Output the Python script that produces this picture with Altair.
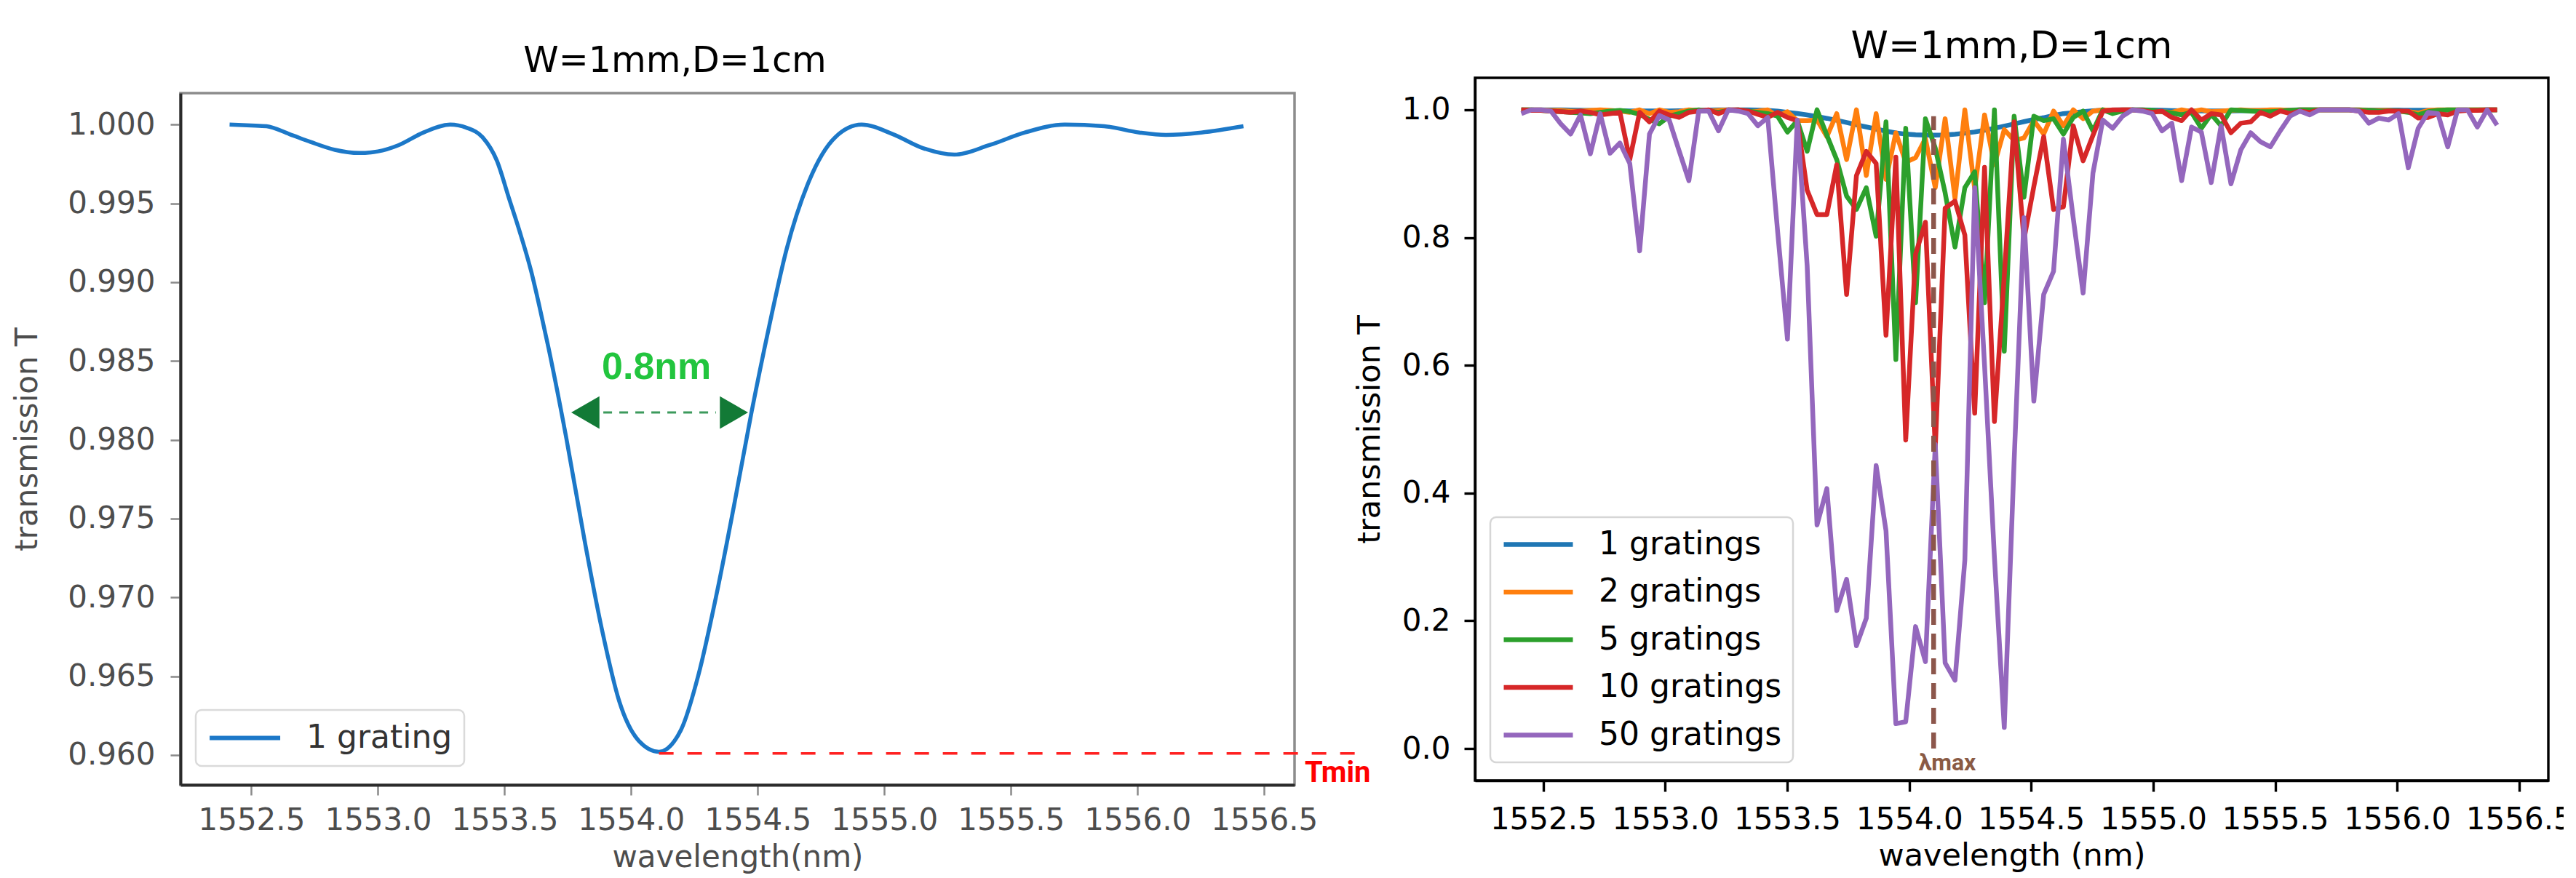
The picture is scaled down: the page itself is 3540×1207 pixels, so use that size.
import altair as alt
import pandas as pd

# ---------------- left panel: 1 grating
left_wl = [1552.414, 1552.50, 1552.56, 1552.65, 1552.734, 1552.83, 1552.926, 1553.00, 1553.082, 1553.18,
           1553.285, 1553.35, 1553.413, 1553.47, 1553.518, 1553.56, 1553.605, 1553.64, 1553.674, 1553.744,
           1553.815, 1553.884, 1553.953, 1554.03, 1554.11, 1554.197, 1554.266, 1554.336, 1554.406, 1554.476,
           1554.545, 1554.614, 1554.702, 1554.806, 1554.91, 1555.033, 1555.154, 1555.276, 1555.415, 1555.555,
           1555.712, 1555.868, 1556.007, 1556.112, 1556.252, 1556.418]
left_T = [1.0000, 0.99995, 0.9999, 0.9994, 0.9989, 0.9984, 0.9982, 0.9983, 0.9987, 0.9995,
          1.0000, 0.9998, 0.9992, 0.9977, 0.9953, 0.9932, 0.9907, 0.9883, 0.9858, 0.9801,
          0.9737, 0.9680, 0.9634, 0.9609, 0.9602, 0.9616, 0.9651, 0.9701, 0.9758, 0.9818,
          0.9872, 0.9921, 0.9964, 0.9992, 1.0000, 0.9994, 0.9985, 0.9981, 0.9987, 0.9995,
          1.0000, 0.9999, 0.9995, 0.99935, 0.9995, 0.9999]

x_ticks = [1552.5, 1553.0, 1553.5, 1554.0, 1554.5, 1555.0, 1555.5, 1556.0, 1556.5]
left_y_ticks = [0.960, 0.965, 0.970, 0.975, 0.980, 0.985, 0.990, 0.995, 1.000]
right_y_ticks = [0.0, 0.2, 0.4, 0.6, 0.8, 1.0]

# annotations (left)
tmin_T = 0.9601
tmin_from, tmin_to = 1554.11, 1556.89
fwhm_T = 0.98173
fwhm_from, fwhm_to = 1553.89, 1554.335
arrow_left_wl, arrow_right_wl = 1553.819, 1554.406
fwhm_label_wl, fwhm_label_T = 1554.10, 0.98386
tmin_label_wl, tmin_label_T = 1556.66, 0.95830

right_wl = [round(1552.41 + 0.0404 * i, 4) for i in range(100)]

T1 = [1.0, 1.0, 1.0, 0.9999, 0.9998, 0.9996, 0.9993, 0.9991, 0.9989, 0.9986,
      0.9984, 0.9983, 0.9982, 0.9982, 0.9982, 0.9983, 0.9986, 0.9988, 0.9992, 0.9995,
      0.9998, 1.0, 0.9999, 0.9998, 0.9995, 0.9991, 0.9978, 0.9960, 0.9942, 0.9920,
      0.9893, 0.9866, 0.9835, 0.9801, 0.9765, 0.9731, 0.9697, 0.9666, 0.9638, 0.9619,
      0.9609, 0.9603, 0.9602, 0.9607, 0.9617, 0.9633, 0.9653, 0.9680, 0.9710, 0.9745,
      0.9778, 0.9814, 0.9848, 0.9876, 0.9911, 0.9940, 0.9955, 0.9970, 0.9985, 0.9993,
      0.9997, 0.9999, 1.0, 0.9998, 0.9995, 0.9992, 0.9988, 0.9985, 0.9983, 0.9982,
      0.9981, 0.9981, 0.9983, 0.9985, 0.9987, 0.9990, 0.9993, 0.9995, 0.9997, 0.9999,
      1.0, 1.0, 1.0, 0.9999, 0.9999, 0.9998, 0.9997, 0.9996, 0.9995, 0.9995,
      0.9994, 0.9994, 0.9993, 0.9994, 0.9994, 0.9995, 0.9996, 0.9997, 0.9998, 0.9999]

T2 = [1.0, 1.0, 1.0, 0.999, 0.999, 0.998, 0.998, 0.999, 1.0, 0.999,
      0.998, 0.996, 1.0, 0.994, 1.0, 0.996, 0.997, 1.0, 0.999, 0.998,
      0.999, 1.0, 0.999, 0.997, 0.998, 1.0, 0.990, 0.997, 0.983, 0.983,
      0.984, 0.958, 0.994, 0.922, 1.0, 0.897, 0.994, 0.891, 0.964, 0.918,
      0.925, 0.955, 0.878, 0.986, 0.861, 1.0, 0.876, 0.992, 0.914, 0.969,
      0.952, 0.956, 0.983, 0.962, 0.998, 0.975, 1.0, 0.986, 0.998, 1.0,
      0.999, 1.0, 1.0, 0.999, 0.998, 0.997, 0.996, 1.0, 0.997, 1.0,
      0.997, 0.998, 0.999, 1.0, 0.999, 0.999, 1.0, 1.0, 0.999, 1.0,
      1.0, 1.0, 1.0, 1.0, 1.0, 1.0, 0.999, 0.999, 0.999, 0.998,
      0.997, 0.995, 0.999, 1.0, 1.0, 1.0, 1.0, 1.0, 1.0, 1.0]

T5 = [1.0, 1.0, 0.999, 0.998, 0.997, 0.996, 0.995, 0.994, 0.996, 0.998,
      0.999, 0.997, 0.993, 0.985, 0.978, 0.990, 0.994, 0.998, 1.0, 0.998,
      0.996, 0.999, 1.0, 0.998, 0.996, 0.994, 0.990, 0.965, 0.983, 0.935,
      1.0, 0.960, 0.922, 0.865, 0.844, 0.878, 0.802, 0.981, 0.609, 0.971,
      0.698, 0.986, 0.94, 0.87, 0.785, 0.878, 0.903, 0.698, 1.0, 0.622,
      0.990, 0.863, 0.990, 0.983, 0.986, 0.962, 0.988, 0.998, 0.967, 1.0,
      0.994, 0.998, 1.0, 1.0, 0.999, 0.997, 0.995, 0.992, 0.996, 0.971,
      0.993, 0.975, 1.0, 0.999, 0.998, 0.997, 0.997, 0.998, 0.999, 1.0,
      1.0, 1.0, 1.0, 1.0, 1.0, 0.999, 0.999, 0.998, 0.998, 0.998,
      0.996, 0.992, 0.997, 0.999, 1.0, 1.0, 1.0, 1.0, 1.0, 1.0]

T10 = [1.0, 0.999, 0.999, 0.998, 0.997, 0.996, 0.998, 0.996, 0.992, 0.994,
       0.996, 0.922, 0.996, 0.981, 0.998, 0.992, 0.988, 0.996, 0.998, 1.0,
       0.994, 1.0, 1.0, 0.998, 0.993, 0.988, 0.996, 0.988, 0.983, 0.874,
       0.836, 0.836, 0.914, 0.711, 0.897, 0.935, 0.916, 0.647, 0.926, 0.483,
       0.774, 0.824, 0.47, 0.846, 0.857, 0.804, 0.525, 0.910, 0.512, 0.74,
       0.981, 0.797, 0.88, 0.958, 0.844, 0.848, 0.975, 0.920, 0.96, 0.998,
       1.0, 1.0, 1.0, 0.999, 0.996, 0.998, 0.988, 0.983, 1.0, 0.984,
       0.994, 0.992, 0.964, 0.979, 0.981, 0.996, 0.990, 0.998, 0.994, 0.998,
       0.996, 1.0, 1.0, 1.0, 1.0, 0.998, 0.996, 0.996, 0.998, 0.998,
       0.998, 0.987, 0.988, 0.994, 0.992, 0.998, 0.999, 0.999, 1.0, 1.0]

T50 = [0.994, 1.0, 1.0, 0.998, 0.978, 0.962, 0.992, 0.931, 0.994, 0.932,
       0.948, 0.916, 0.779, 0.962, 0.991, 0.984, 0.936, 0.889, 0.998, 0.998,
       0.967, 1.0, 0.998, 0.994, 0.975, 0.988, 0.81, 0.641, 0.984, 0.756,
       0.350, 0.407, 0.216, 0.265, 0.161, 0.204, 0.443, 0.341, 0.039, 0.042,
       0.191, 0.136, 0.476, 0.134, 0.107, 0.295, 0.878, 0.60, 0.30, 0.033,
       0.45, 0.831, 0.544, 0.711, 0.747, 0.954, 0.83, 0.713, 0.901, 0.984,
       0.971, 0.990, 1.0, 0.998, 0.994, 0.967, 0.979, 0.889, 0.973, 0.965,
       0.886, 0.975, 0.884, 0.937, 0.964, 0.950, 0.942, 0.967, 0.990, 0.998,
       0.992, 1.0, 1.0, 1.0, 1.0, 0.998, 0.979, 0.987, 0.984, 0.994,
       0.909, 0.971, 0.996, 0.994, 0.942, 1.0, 1.0, 0.973, 1.0, 0.976]

series_names = ["1 gratings", "2 gratings", "5 gratings", "10 gratings", "50 gratings"]
series_values = [T1, T2, T5, T10, T50]
series_colors = ["#1f77b4", "#ff7f0e", "#2ca02c", "#d62728", "#9467bd"]

lambda_max = 1554.1
lambda_line_T = [0.0, 0.99]
lambda_label_wl, lambda_label_T = 1554.156, -0.034

TITLE = "W=1mm,D=1cm"

# ---------------- data frames
left_df = pd.DataFrame({"wl": left_wl, "T": left_T, "series": "1 grating"})
rows = []
for k, (name, vals) in enumerate(zip(series_names, series_values)):
    assert len(vals) == len(right_wl), name
    for w, t in zip(right_wl, vals):
        rows.append({"wl": w, "T": t, "grating": name, "k": k})
right_df = pd.DataFrame(rows)

tmin_df = pd.DataFrame({"wl": [tmin_from], "wl2": [tmin_to], "T": [tmin_T]})
fwhm_df = pd.DataFrame({"wl": [fwhm_from], "wl2": [fwhm_to], "T": [fwhm_T]})
arrow_l_df = pd.DataFrame({"wl": [arrow_left_wl], "T": [fwhm_T]})
arrow_r_df = pd.DataFrame({"wl": [arrow_right_wl], "T": [fwhm_T]})
fwhm_lab_df = pd.DataFrame({"wl": [fwhm_label_wl], "T": [fwhm_label_T], "label": ["0.8nm"]})
tmin_lab_df = pd.DataFrame({"wl": [tmin_label_wl], "T": [tmin_label_T], "label": ["Tmin"]})
lam_df = pd.DataFrame({"wl": [lambda_max], "T": [lambda_line_T[0]], "T2": [lambda_line_T[1]]})
lam_lab_df = pd.DataFrame({"wl": [lambda_label_wl], "T": [lambda_label_T], "label": ["λmax"]})
spacer_df = pd.DataFrame({"s": [0]})

FONT = "DejaVu Sans"
LINE_SYMBOL = "M-1,0L4,0"   # a horizontal legend line, 5 radii long

# ---------------- left chart
xl_scale = alt.Scale(domain=[1552.22, 1556.62], nice=False, zero=False)
yl_scale = alt.Scale(domain=[0.9581, 1.0020], nice=False, zero=False)
left_axis = dict(labelFont=FONT, labelFontSize=42, labelColor="#4d4d4d", titleFont=FONT,
                 titleFontSize=42, titleFontWeight="normal", titleColor="#4d4d4d",
                 tickColor="#8a8a8a", tickWidth=2.5, tickSize=14, domainColor="#2b2b2b",
                 domainWidth=4, grid=False)

l_line = alt.Chart(left_df).mark_line(strokeWidth=5.5, interpolate="monotone").encode(
    x=alt.X("wl:Q", scale=xl_scale,
            axis=alt.Axis(values=x_ticks, format=".1f", title="wavelength(nm)",
                          labelPadding=14, titlePadding=10, **left_axis)),
    y=alt.Y("T:Q", scale=yl_scale,
            axis=alt.Axis(values=left_y_ticks, format=".3f", title="transmission T",
                          labelPadding=21, titlePadding=33, **left_axis)),
    color=alt.Color("series:N", scale=alt.Scale(domain=["1 grating"], range=["#1c78c8"]),
                    legend=alt.Legend(orient="none", legendX=21, legendY=941, title=None,
                                      symbolType=LINE_SYMBOL, symbolSize=1505,
                                      symbolStrokeWidth=6, labelFont=FONT, labelFontSize=44,
                                      labelColor="#333333", labelOffset=91, labelLimit=600,
                                      padding=16, strokeColor="#dadada", fillColor="white",
                                      cornerRadius=8)),
)
l_tmin = alt.Chart(tmin_df).mark_rule(color="#ff2020", strokeWidth=3.5, strokeDash=[20, 19]).encode(
    x="wl:Q", x2="wl2:Q", y="T:Q")
l_fwhm = alt.Chart(fwhm_df).mark_rule(color="#3c9a5c", strokeWidth=3, strokeDash=[12, 10]).encode(
    x="wl:Q", x2="wl2:Q", y="T:Q")
l_arr_l = alt.Chart(arrow_l_df).mark_point(shape="triangle-left", filled=True, size=2000,
                                           color="#127a36", opacity=1, strokeWidth=0).encode(
    x="wl:Q", y="T:Q")
l_arr_r = alt.Chart(arrow_r_df).mark_point(shape="triangle-right", filled=True, size=2000,
                                           color="#127a36", opacity=1, strokeWidth=0).encode(
    x="wl:Q", y="T:Q")
l_fwhm_lab = alt.Chart(fwhm_lab_df).mark_text(font="Liberation Sans", fontWeight="bold", fontSize=52,
                                              color="#22c53e", align="center",
                                              baseline="alphabetic").encode(
    x="wl:Q", y="T:Q", text="label:N")
l_tmin_lab = alt.Chart(tmin_lab_df).mark_text(font="Roboto", fontWeight="bold", fontSize=40,
                                              color="#ff0000", align="left",
                                              baseline="alphabetic").encode(
    x="wl:Q", y="T:Q", text="label:N")

left_plot = alt.layer(l_line, l_tmin, l_fwhm, l_arr_l, l_arr_r, l_fwhm_lab, l_tmin_lab).properties(
    width=1531, height=951,
    title=alt.TitleParams(text=TITLE, font=FONT, fontSize=49, fontWeight="normal",
                          color="black", offset=19, dx=-86, anchor="middle"),
    view=alt.ViewBackground(stroke="#8c8c8c", strokeWidth=3.5),
)
# invisible spacer rows: the left panel sits a little lower than the right one
left_head = alt.Chart(spacer_df).mark_point(size=0, opacity=0).properties(
    width=1531, height=23, view=alt.ViewBackground(strokeWidth=0, strokeOpacity=0))
left = alt.vconcat(left_head, left_plot, spacing=0)

# ---------------- right chart
xr_scale = alt.Scale(domain=[1552.22, 1556.62], nice=False, zero=False)
yr_scale = alt.Scale(domain=[-0.05, 1.05], nice=False, zero=False)
right_axis = dict(labelFont=FONT, labelFontSize=42, labelColor="black", titleFont=FONT,
                  titleFontSize=43, titleFontWeight="normal", titleColor="black",
                  tickColor="black", tickWidth=3.4, tickSize=15, domainColor="black",
                  domainWidth=3.4, grid=False)

r_lines = alt.Chart(right_df).mark_line(strokeWidth=6.5, strokeJoin="round").encode(
    x=alt.X("wl:Q", scale=xr_scale,
            axis=alt.Axis(values=x_ticks, format=".1f", title="wavelength (nm)",
                          labelPadding=18, titlePadding=8, **right_axis)),
    y=alt.Y("T:Q", scale=yr_scale,
            axis=alt.Axis(values=right_y_ticks, format=".1f", title="transmission T",
                          labelPadding=19, titlePadding=22, **right_axis)),
    color=alt.Color("grating:N", scale=alt.Scale(domain=series_names, range=series_colors),
                    legend=alt.Legend(orient="none", legendX=21, legendY=676, title=None,
                                      symbolType=LINE_SYMBOL, symbolSize=1444,
                                      symbolStrokeWidth=6.5, labelFont=FONT, labelFontSize=44,
                                      labelColor="black", labelOffset=89, labelLimit=600,
                                      padding=15, rowPadding=20.5, strokeColor="#d6d6d6",
                                      fillColor="white", cornerRadius=8)),
    order=alt.Order("k:Q"),
)
r_lam = alt.Chart(lam_df).mark_rule(color="#8c564b", strokeWidth=6.5, strokeDash=[22, 12]).encode(
    x="wl:Q", y="T:Q", y2="T2:Q")
r_lam_lab = alt.Chart(lam_lab_df).mark_text(font="Roboto", fontWeight="bold", fontSize=32,
                                            color="#8a5a44", align="center",
                                            baseline="alphabetic").encode(
    x="wl:Q", y="T:Q", text="label:N")

right_plot = alt.layer(r_lines, r_lam, r_lam_lab).properties(
    width=1475, height=966,
    title=alt.TitleParams(text=TITLE, font=FONT, fontSize=52, fontWeight="normal",
                          color="black", offset=16, anchor="middle"),
    view=alt.ViewBackground(stroke="black", strokeWidth=3.4),
)
right_head = alt.Chart(spacer_df).mark_point(size=0, opacity=0).properties(
    width=1475, height=1, view=alt.ViewBackground(strokeWidth=0, strokeOpacity=0))
right = alt.vconcat(right_head, right_plot, spacing=0)

chart = alt.hconcat(left, right, spacing=-27).resolve_scale(
    x="independent", y="independent", color="independent"
).resolve_legend(color="independent").properties(
    padding={"left": 7, "top": 27, "right": -14, "bottom": 0}
).configure(font=FONT).configure_legend(strokeWidth=2.5)

chart.save("out.html", embed_options={"renderer": "svg", "actions": False})
